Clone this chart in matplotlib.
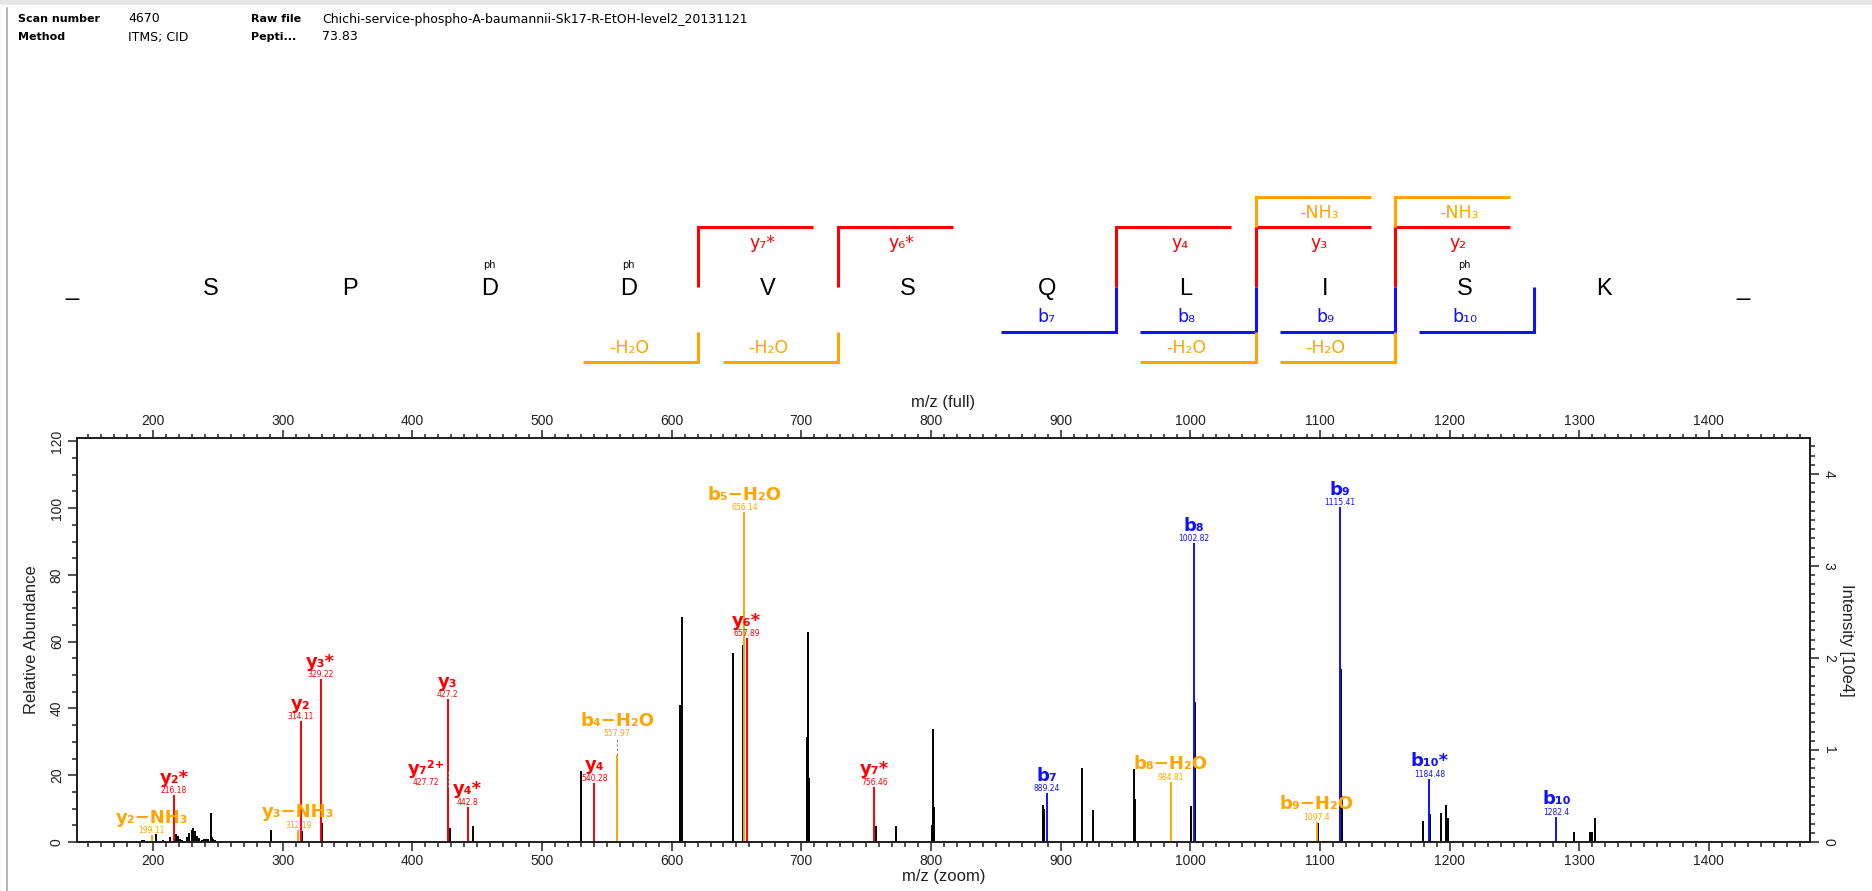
import matplotlib.pyplot as plt
from matplotlib.ticker import MultipleLocator

# header info
header_keys_left = ['Scan number', 'Method']
header_vals_left = ['4670', 'ITMS; CID']
header_keys_right = ['Raw file', 'Pepti...']
header_vals_right = ['Chichi-service-phospho-A-baumannii-Sk17-R-EtOH-level2_20131121', '73.83']

# peptide sequence and fragment coverage (cut = index of residue before the cleavage)
residues = ['_', 'S', 'P', 'D', 'D', 'V', 'S', 'Q', 'L', 'I', 'S', 'K', '_']
phospho_sites = [3, 4, 10]
y_cuts = [4, 5, 7, 8, 9]
y_names = ['y₇*', 'y₆*', 'y₄', 'y₃', 'y₂']
y_nh3_cuts = [8, 9]
b_cuts = [7, 8, 9, 10]
b_names = ['b₇', 'b₈', 'b₉', 'b₁₀']
b_h2o_cuts = [4, 5, 8, 9]

# unassigned peaks (m/z, relative abundance)
other_mz = [191.5, 193.0, 202.2, 207.5, 213.5, 217.5, 219.0, 221.0, 222.5, 226.5,
            228.0, 229.8, 231.0, 232.2, 234.0, 235.2, 237.5, 239.0, 241.0, 242.5,
            244.5, 245.5, 246.5, 248.0, 249.0, 291.2, 315.0, 330.0, 429.3, 446.5,
            530.0, 606.6, 608.3, 647.3, 655.3, 704.8, 705.5, 706.2, 757.3, 773.3,
            800.8, 801.7, 802.4, 886.5, 887.5, 916.3, 925.3, 956.6, 957.6, 1000.3,
            1003.6, 1098.8, 1116.0, 1117.4, 1179.5, 1185.0, 1193.5, 1197.4, 1198.5,
            1295.9, 1308.3, 1309.5, 1311.8]
other_int = [0.6, 0.6, 2.5, 0.5, 1.5, 2.5, 1.8, 1.0, 0.6, 1.5,
             2.8, 3.5, 4.3, 3.2, 1.8, 1.2, 0.7, 0.8, 1.0, 0.8,
             8.8, 1.5, 1.0, 0.6, 0.4, 3.5, 3.2, 5.7, 4.2, 4.8,
             21.2, 41.0, 67.3, 56.5, 59.0, 31.3, 62.8, 19.2, 4.8, 4.8,
             5.0, 33.8, 10.6, 11.0, 10.0, 22.3, 9.6, 22.0, 13.0, 10.8,
             42.0, 5.6, 51.7, 13.8, 6.4, 8.4, 8.8, 11.1, 7.3,
             2.9, 2.9, 2.9, 7.1]

# assigned peaks
ann_mz = [199.11, 216.18, 312.19, 314.11, 329.22, 427.2, 427.72, 442.8, 540.28, 557.97,
          656.14, 657.89, 756.46, 889.24, 984.81, 1002.82, 1097.4, 1115.41, 1184.48, 1282.4]
ann_int = [2.0, 14.0, 3.6, 36.2, 48.8, 42.8, 16.5, 10.5, 17.7, 26.0,
           98.8, 61.0, 16.5, 14.6, 18.0, 89.5, 6.0, 100.3, 18.9, 7.5]
ann_label = ['y₂−NH₃', 'y₂*', 'y₃−NH₃', 'y₂', 'y₃*', 'y₃', 'y₇²⁺', 'y₄*', 'y₄', 'b₄−H₂O',
             'b₅−H₂O', 'y₆*', 'y₇*', 'b₇', 'b₈−H₂O', 'b₈', 'b₉−H₂O', 'b₉', 'b₁₀*', 'b₁₀']
ann_kind = ['loss', 'y', 'loss', 'y', 'y', 'y', 'y', 'y', 'y', 'loss',
            'loss', 'y', 'y', 'b', 'loss', 'b', 'loss', 'b', 'b', 'b']
ann_text = ['199.11', '216.18', '312.19', '314.11', '329.22', '427.2', '427.72', '442.8', '540.28', '557.97',
            '656.14', '657.89', '756.46', '889.24', '984.81', '1002.82', '1097.4', '1115.41', '1184.48', '1282.4']

base_intensity = 3.63  # 100 % in units of 10e4

colors = {'y': '#FF0000', 'b': '#1010FF', 'loss': '#FFA500'}
plt.rcParams['font.family'] = ['Liberation Sans', 'DejaVu Sans']

fig = plt.figure(figsize=(18.72, 8.91), dpi=100)

# ---- pixel-space overlay for header + sequence ----
bg = fig.add_axes([0, 0, 1, 1])
bg.set_xlim(0, 1872)
bg.set_ylim(891, 0)
bg.axis('off')

bg.plot([0, 1872], [2, 2], color='#e6e6e6', lw=4)
bg.plot([7, 7], [8, 891], color='#a8a8a8', lw=1.2)

for i in range(2):
    yy = 19 + i * 18
    bg.text(18, yy, header_keys_left[i], fontsize=8, fontweight='bold', va='center', family='DejaVu Sans')
    bg.text(128, yy, header_vals_left[i], fontsize=9, va='center', family='DejaVu Sans')
    bg.text(251, yy, header_keys_right[i], fontsize=8, fontweight='bold', va='center', family='DejaVu Sans')
    bg.text(322, yy, header_vals_right[i], fontsize=9, va='center', family='DejaVu Sans')

x0, step, mid = 71.5, 139.3, 287
arm = 0.826 * step
lev_nh3, lev_y, lev_b, lev_h2o = mid - 90, mid - 60, mid + 45, mid + 75
lkw = dict(lw=2.2, solid_joinstyle='miter', solid_capstyle='butt')
fkw = dict(fontsize=12.5, ha='center', va='center', family='DejaVu Sans')

for i, r in enumerate(residues):
    bg.text(x0 + i * step, 295, r, fontsize=17, ha='center', va='baseline')
for i in phospho_sites:
    bg.text(x0 + i * step, 265, 'ph', fontsize=7, ha='center', va='center', family='DejaVu Sans')

for k, name in zip(y_cuts, y_names):
    xb = x0 + (k + 0.5) * step
    bg.plot([xb, xb, xb + arm], [mid, lev_y, lev_y], color=colors['y'], **lkw)
    bg.text(x0 + (k + 1) * step - 6, 243, name, color=colors['y'], **fkw)
for k in y_nh3_cuts:
    xb = x0 + (k + 0.5) * step
    bg.plot([xb, xb, xb + arm], [lev_y, lev_nh3, lev_nh3], color=colors['loss'], **lkw)
    bg.text(x0 + (k + 1) * step - 6, 213, '-NH₃', color=colors['loss'], **fkw)
for k, name in zip(b_cuts, b_names):
    xb = x0 + (k + 0.5) * step
    bg.plot([xb - arm, xb, xb], [lev_b, lev_b, mid], color=colors['b'], **lkw)
    bg.text(x0 + k * step, 317, name, color=colors['b'], **fkw)
for k in b_h2o_cuts:
    xb = x0 + (k + 0.5) * step
    bg.plot([xb - arm, xb, xb], [lev_h2o, lev_h2o, lev_b], color=colors['loss'], **lkw)
    bg.text(x0 + k * step, 348, '-H₂O', color=colors['loss'], **fkw)

# ---- spectrum ----
ax = fig.add_axes([77 / 1872, 49 / 891, 1733 / 1872, 404 / 891])
ax.set_xlim(141.4, 1478)
ax.set_ylim(0, 121)

ax.vlines(other_mz, 0, other_int, color='black', lw=1.4, zorder=2)
for mz, h, lab, kind, txt in zip(ann_mz, ann_int, ann_label, ann_kind, ann_text):
    c = colors[kind]
    ax.vlines(mz, 0, h, color=c, lw=1.4, zorder=3)
    dx, lift = 0, 0
    if lab == 'y₇²⁺':
        dx = -17
    if lab == 'b₄−H₂O':
        lift = 12
    if lift or dx:
        ax.plot([mz, mz], [h, h + 5], color='#888888', lw=0.8, ls=(0, (2, 2)), zorder=4)
    ax.annotate(txt, (mz + dx, h), xytext=(0, 1.5 + lift), textcoords='offset points',
                ha='center', va='baseline', fontsize=5.5, color=c, family='DejaVu Sans', zorder=5)
    ax.annotate(lab, (mz + dx, h), xytext=(0, 9 + lift), textcoords='offset points',
                ha='center', va='baseline', fontsize=13, fontweight='bold', color=c,
                family='DejaVu Sans', zorder=5)

tick_col = '#222222'
ax.xaxis.set_major_locator(MultipleLocator(100))
ax.xaxis.set_minor_locator(MultipleLocator(10))
ax.yaxis.set_major_locator(MultipleLocator(20))
ax.yaxis.set_minor_locator(MultipleLocator(5))
ax.tick_params(which='both', direction='out', colors=tick_col, width=1.1, labelsize=10)
ax.tick_params(which='major', length=6.5, pad=2)
ax.tick_params(which='minor', length=3.5)
ax.tick_params(axis='y', labelrotation=90, pad=3)
for t in ax.get_yticklabels():
    t.set_va('center')
ax.set_xlabel('m/z (zoom)', fontsize=12, color=tick_col, labelpad=1)
ax.set_ylabel('Relative Abundance', fontsize=12, color=tick_col, labelpad=8)

axt = ax.twiny()
axt.set_xlim(ax.get_xlim())
axt.xaxis.set_major_locator(MultipleLocator(100))
axt.xaxis.set_minor_locator(MultipleLocator(10))
axt.tick_params(which='both', direction='out', colors=tick_col, width=1.1, labelsize=10)
axt.tick_params(which='major', length=5.5, pad=1.5)
axt.tick_params(which='minor', length=3)
axt.set_xlabel('m/z (full)', fontsize=12, color=tick_col, labelpad=5)

axr = ax.twinx()
axr.set_ylim(0, 121 * base_intensity / 100)
axr.yaxis.set_major_locator(MultipleLocator(1))
axr.yaxis.set_minor_locator(MultipleLocator(0.1))
axr.tick_params(which='both', direction='out', colors=tick_col, width=1.1, labelsize=10)
axr.tick_params(which='major', length=6.5, pad=2)
axr.tick_params(which='minor', length=3.5)
axr.tick_params(axis='y', labelrotation=-90)
for t in axr.get_yticklabels():
    t.set_va('center')
axr.set_ylabel('Intensity [10e4]', fontsize=12, color=tick_col, rotation=-90, va='bottom', labelpad=2)

for a in (ax, axt, axr):
    for s in a.spines.values():
        s.set_linewidth(1.4)
        s.set_color('#222222')

fig.savefig('out.png', dpi=100)
